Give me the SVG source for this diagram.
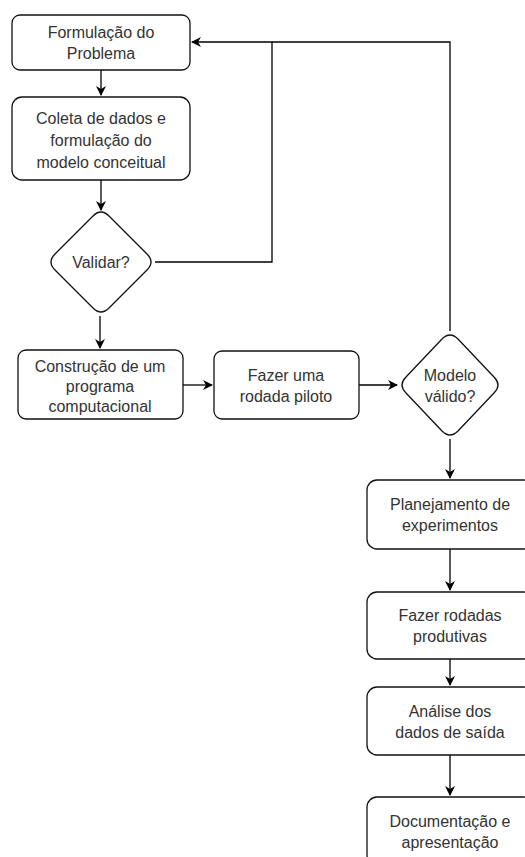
<svg xmlns="http://www.w3.org/2000/svg" width="525" height="857" viewBox="0 0 525 857">
<defs>
<marker id="ah" viewBox="0 0 10 10" refX="9" refY="5" markerWidth="10" markerHeight="10" markerUnits="userSpaceOnUse" orient="auto">
<path d="M0,0 L10,5 L0,10 L3,5 Z" fill="#000"/>
</marker>
<style>
.n{fill:#fff;stroke:#111;stroke-width:1.3}
.t{font-family:"Liberation Sans",Arial,sans-serif;font-size:16px;fill:#333;text-anchor:middle;dominant-baseline:central}
.c{fill:none;stroke:#000;stroke-width:1.3}
</style>
</defs>
<rect width="525" height="857" fill="#fff"/>
<g id="connectors">
<path class="c" d="M101,70 V95" marker-end="url(#ah)"/>
<path class="c" d="M101,180 V210" marker-end="url(#ah)"/>
<path class="c" d="M155,262 H272 V42 H192" marker-end="url(#ah)"/>
<path class="c" d="M100,316 V348" marker-end="url(#ah)"/>
<path class="c" d="M183,385 H212" marker-end="url(#ah)"/>
<path class="c" d="M359,385 H397" marker-end="url(#ah)"/>
<path class="c" d="M450,331 V42 H272"/>
<path class="c" d="M450,439 V478" marker-end="url(#ah)"/>
<path class="c" d="M450,549 V590" marker-end="url(#ah)"/>
<path class="c" d="M450,659 V685" marker-end="url(#ah)"/>
<path class="c" d="M450,755 V795" marker-end="url(#ah)"/>
</g>
<g id="n1"><rect class="n" x="12" y="15" width="178" height="55" rx="8"/><text class="t" x="101" y="32">Formulação do</text><text class="t" x="101" y="53">Problema</text></g>
<g id="n2"><rect class="n" x="12" y="97" width="178" height="83" rx="10"/><text class="t" x="101" y="118">Coleta de dados e</text><text class="t" x="101" y="140">formulação do</text><text class="t" x="101" y="162">modelo conceitual</text></g>
<g id="n3"><path class="n" d="M93,216 Q101,208 109,216 L147,254 Q155,262 147,270 L109,308 Q101,316 93,308 L55,270 Q47,262 55,254 Z"/><text class="t" x="101" y="262">Validar?</text></g>
<g id="n4"><rect class="n" x="18" y="350" width="165" height="69" rx="8"/><text class="t" x="100" y="366">Construção de um</text><text class="t" x="100" y="386">programa</text><text class="t" x="100" y="406">computacional</text></g>
<g id="n5"><rect class="n" x="214" y="351" width="145" height="68" rx="8"/><text class="t" x="286" y="375">Fazer uma</text><text class="t" x="286" y="396">rodada piloto</text></g>
<g id="n6"><path class="n" d="M442,339 Q450,331 458,339 L494,377 Q502,385 494,393 L458,431 Q450,439 442,431 L406,393 Q398,385 406,377 Z"/><text class="t" x="450" y="375">Modelo</text><text class="t" x="450" y="396">válido?</text></g>
<g id="n7"><rect class="n" x="367" y="480" width="166" height="69" rx="10"/><text class="t" x="450" y="504">Planejamento de</text><text class="t" x="450" y="525">experimentos</text></g>
<g id="n8"><rect class="n" x="367" y="592" width="166" height="67" rx="10"/><text class="t" x="450" y="615">Fazer rodadas</text><text class="t" x="450" y="636">produtivas</text></g>
<g id="n9"><rect class="n" x="367" y="687" width="166" height="68" rx="10"/><text class="t" x="450" y="711">Análise dos</text><text class="t" x="450" y="732">dados de saída</text></g>
<g id="n10"><rect class="n" x="367" y="797" width="166" height="68" rx="10"/><text class="t" x="450" y="821">Documentação e</text><text class="t" x="450" y="842">apresentação</text></g>
</svg>
